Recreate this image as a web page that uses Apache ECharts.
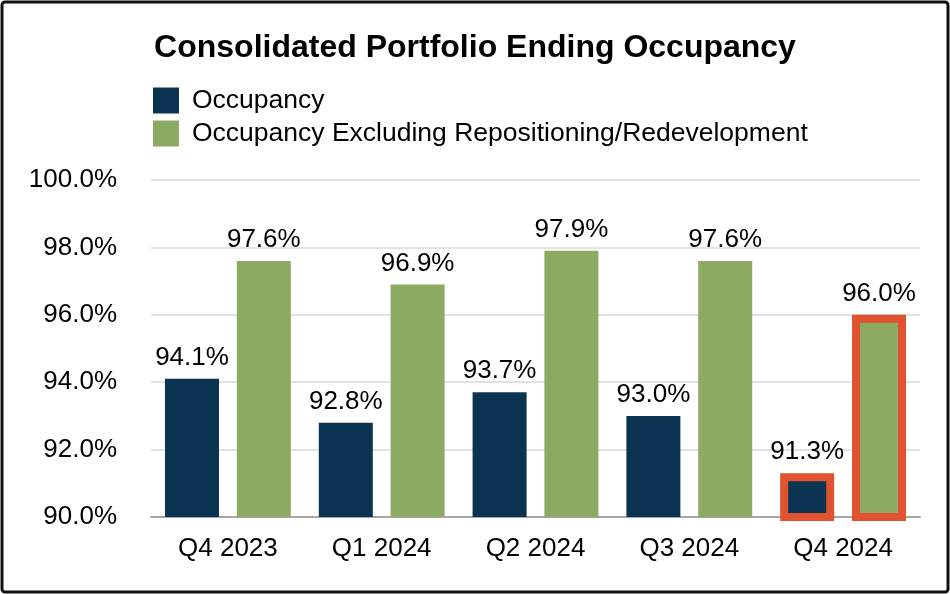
<!DOCTYPE html>
<html><head><meta charset="utf-8">
<script src="https://cdn.jsdelivr.net/npm/echarts@6/dist/echarts.min.js"></script>
<style>html,body{margin:0;padding:0;background:#fff}#c{width:950px;height:594px}</style>
</head><body><div id="c"></div>
<script>
const categories = ['Q4 2023','Q1 2024','Q2 2024','Q3 2024','Q4 2024'];
const occupancy = [94.1, 92.8, 93.7, 93.0, 91.3];
const occupancyExcl = [97.6, 96.9, 97.9, 97.6, 96.0];
const highlighted = [false, false, false, false, true];
const yTicks = [90, 92, 94, 96, 98, 100];
const seriesNames = ['Occupancy','Occupancy Excluding Repositioning/Redevelopment'];

const FONT = 'Liberation Sans, Arial, sans-serif';
function mk(vals){
  return vals.map((v,i)=> highlighted[i]
    ? {value:v, itemStyle:{borderColor:'#e05230', borderWidth:8}}
    : v);
}
const chart = echarts.init(document.getElementById('c'), null, {renderer:'canvas'});
chart.setOption({
  animation:false,
  textStyle:{fontFamily:FONT},
  graphic:[{type:'rect', shape:{x:2,y:2,width:946,height:590,r:3}, style:{fill:'none',stroke:'#111',lineWidth:3}, z:100}],
  title:{text:'Consolidated Portfolio Ending Occupancy', left:'center', top:27,
    textStyle:{fontFamily:FONT,fontSize:32,fontWeight:'bold',color:'#000'}},
  legend:{orient:'vertical', left:148, top:82, itemWidth:26, itemHeight:26, itemGap:6,
    icon:'rect', textStyle:{fontFamily:FONT,fontSize:26.5,color:'#000',padding:[0,0,0,8]},
    data:seriesNames},
  grid:{left:151, right:30, top:180, bottom:77, containLabel:false},
  xAxis:{type:'category', data:categories,
    axisLine:{lineStyle:{color:'#a6a6a6',width:2}}, axisTick:{show:false},
    axisLabel:{fontFamily:FONT,fontSize:26,color:'#000',margin:19}},
  yAxis:{type:'value', min:yTicks[0], max:yTicks[yTicks.length-1], interval:2,
    axisLine:{show:false}, axisTick:{show:false},
    splitLine:{lineStyle:{color:'#d9d9d9',width:1.5}},
    axisLabel:{fontFamily:FONT,fontSize:26,color:'#000',margin:34,formatter:v=>v.toFixed(1)+'%'}},
  series:[
    {name:seriesNames[0], type:'bar', data:mk(occupancy), barWidth:54, barGap:'33%',
      itemStyle:{color:'#0a3452'},
      label:{show:true, position:'top', distance:8, fontFamily:FONT, fontSize:26, color:'#000', formatter:p=>p.value.toFixed(1)+'%'}},
    {name:seriesNames[1], type:'bar', data:mk(occupancyExcl), barWidth:54,
      itemStyle:{color:'#8daa62'},
      label:{show:true, position:'top', distance:8, fontFamily:FONT, fontSize:26, color:'#000', formatter:p=>p.value.toFixed(1)+'%'}}
  ]
});
</script></body></html>
